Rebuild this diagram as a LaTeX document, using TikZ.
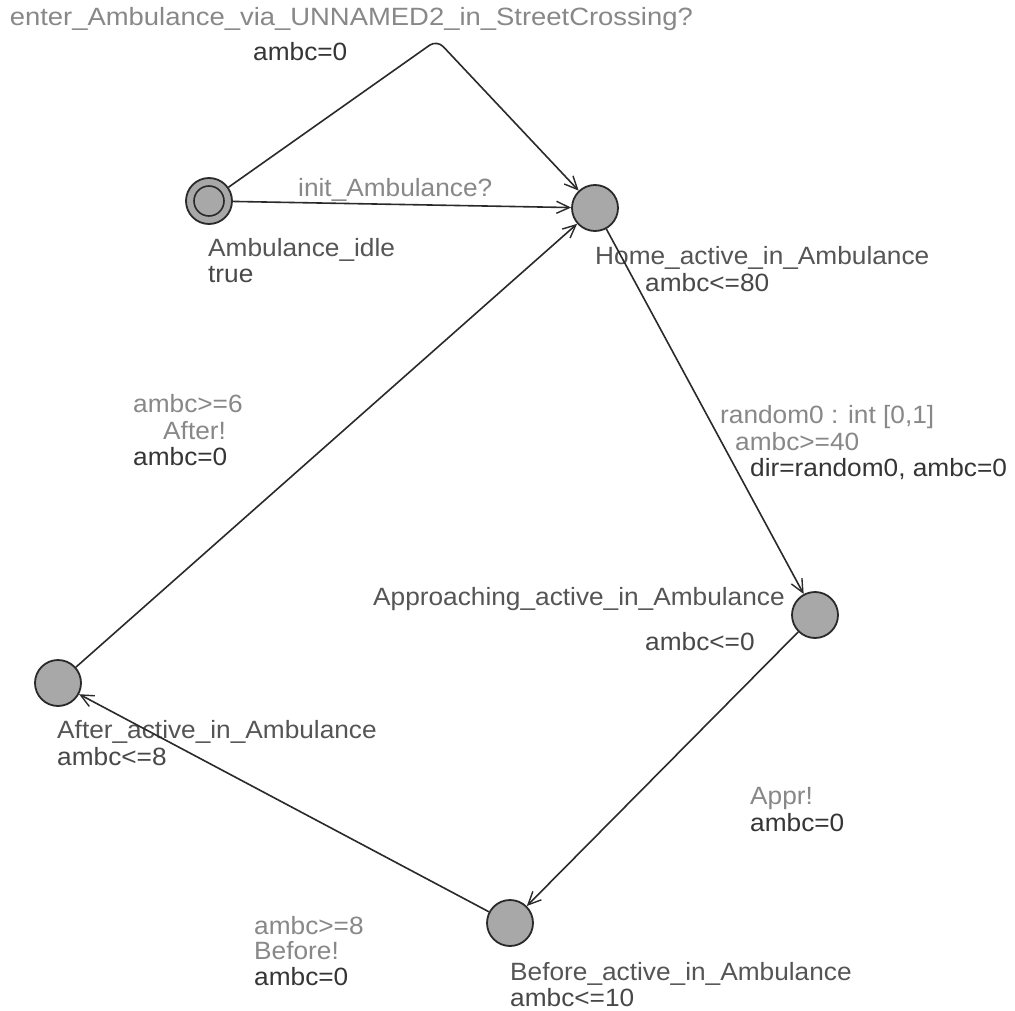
\documentclass[tikz,border=0pt]{standalone}
\usepackage{fontspec}
\setmainfont{Liberation Sans}[FakeStretch=1.05]
\usetikzlibrary{arrows.meta}
\definecolor{namecol}{HTML}{555555}
\definecolor{guardcol}{HTML}{888888}
\definecolor{assigncol}{HTML}{353535}
\definecolor{invcol}{HTML}{484848}
\definecolor{locfill}{HTML}{A8A8A8}
\definecolor{edgecol}{HTML}{2A2A2A}
\tikzset{
  loc/.style={circle, draw=edgecol, fill=locfill, line width=1.8pt, minimum size=46pt, inner sep=0pt},
  lbl/.style={anchor=base west, inner sep=0pt, font=\fontsize{25pt}{27pt}\selectfont},
  lname/.style={lbl, text=namecol},
  linv/.style={lbl, text=invcol},
  lguard/.style={lbl, text=guardcol},
  lassign/.style={lbl, text=assigncol},
  trans/.style={draw=edgecol, line width=1.6pt, -{Straight Barb[length=13pt,width=12pt,line width=1.4pt]}},
}
\begin{document}
\begin{tikzpicture}[x=1pt,y=-1pt]
\useasboundingbox[fill=white] (0,0) rectangle (1015,1011);

% locations
\node[loc] (idle) at (209,201) {};
\draw[edgecol, line width=1.6pt] (idle.center) circle (15pt);
\node[loc] (home) at (595,208) {};
\node[loc] (appr) at (815,615) {};
\node[loc] (before) at (510,923) {};
\node[loc] (after) at (58,683) {};

% location names and invariants
\node[lname] (n1) at (208,257) {Ambulance\_idle};
\node[linv] (i1) at (208,283) {true};
\node[lname] (n2) at (595,265) {Home\_active\_in\_Ambulance};
\node[linv] (i2) at (645,291) {ambc<=80};
\node[lname] (n3) at (373,605) {Approaching\_active\_in\_Ambulance};
\node[linv] (i3) at (645,650) {ambc<=0};
\node[lname] (n4) at (57,738) {After\_active\_in\_Ambulance};
\node[linv] (i4) at (57,765) {ambc<=8};
\node[lname] (n5) at (510,980) {Before\_active\_in\_Ambulance};
\node[linv] (i5) at (510,1006) {ambc<=10};

% transitions
\coordinate (nail) at (437,40);
\draw[trans, rounded corners=9pt] (idle) -- (nail) -- (home);
\draw[trans] (idle) -- (home);
\draw[trans] (home) -- (appr);
\draw[trans] (appr) -- (before);
\draw[trans] (before) -- (after);
\draw[trans] (after) -- (home);

% transition labels
\node[lguard, xscale=1.045, transform shape] (s1) at (9.6,26) {enter\_Ambulance\_via\_UNNAMED2\_in\_StreetCrossing?};
\node[lassign] (a1) at (253,61) {ambc=0};
\node[lguard] (s2) at (298,197) {init\_Ambulance?};
\node[lguard] (sel3) at (720,423) {random0 : int [0,1]};
\node[lguard] (g3) at (735,450) {ambc>=40};
\node[lassign] (a3) at (750,476) {dir=random0, ambc=0};
\node[lguard] (s4) at (750,804) {Appr!};
\node[lassign] (a4) at (750,831) {ambc=0};
\node[lguard] (g5) at (254,934) {ambc>=8};
\node[lguard] (s5) at (254,959) {Before!};
\node[lassign] (a5) at (254,985) {ambc=0};
\node[lguard] (g6) at (133,412) {ambc>=6};
\node[lguard] (s6) at (163,439) {After!};
\node[lassign] (a6) at (133,465) {ambc=0};
\end{tikzpicture}
\end{document}
